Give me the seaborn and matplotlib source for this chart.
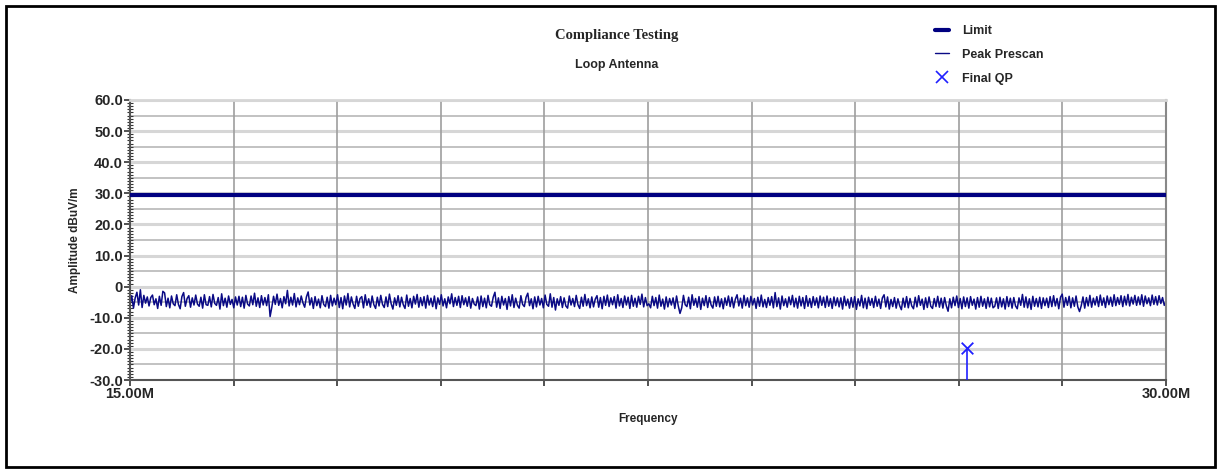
import numpy as np
import pandas as pd
import matplotlib
matplotlib.use("Agg")
import matplotlib.pyplot as plt
from matplotlib.lines import Line2D
from matplotlib.patches import Rectangle
from matplotlib.ticker import MultipleLocator, FixedLocator, FixedFormatter
import seaborn as sns

# ---------------- data ----------------
f_start_mhz = 15.0
f_stop_mhz = 30.0
limit_dbuv = 29.5

seg1 = [-5.8,-2.9,-6.9,-3.6,-1.8,-5.9,-1.0,-6.7,-2.8,-5.3,
        -3.3,-6.2,-3.5,-2.7,-5.8,-3.9,-7.0,-3.1,-6.0,-1.5,
        -2.0,-6.4,-3.7,-6.8,-3.0,-5.5,-6.1,-2.6,-5.7,-7.1,
        -3.2,-1.9,-6.3,-3.8,-2.9,-6.6,-3.6,-5.9,-2.7,-5.6,
        -6.3,-3.4,-6.9,-2.6,-5.8,-6.0,-3.2,-6.5,-2.5,-5.4,
        -6.0,-3.5,-7.2,-2.3,-6.1,-3.7,-6.6,-3.0,-5.7,-4.1,
        -6.8,-3.3,-5.9,-3.1,-6.4,-3.4,-6.9,-2.8,-5.6,-6.2,
        -3.0,-5.8,-2.1,-6.3,-3.6,-6.7,-2.9,-5.9,-3.5,-6.1,
        -2.6,-9.6,-6.6,-3.1,-5.7,-2.4,-6.0,-3.8,-6.8,-3.2,
        -5.5,-1.2,-6.2,-3.4,-5.9,-2.2,-6.5,-3.6,-5.8,-3.0]
seg2 = [-5.2,-6.6,-3.3,-1.7,-5.9,-3.6,-7.0,-3.2,-6.1,-4.0,
        -6.8,-2.9,-5.7,-6.4,-3.4,-6.9,-2.8,-6.2,-3.7,-5.8,
        -2.6,-6.7,-3.5,-7.1,-3.0,-5.9,-2.2,-6.5,-3.3,-5.6,
        -7.0,-3.1,-6.3,-3.8,-3.2,-6.8,-2.6,-6.0,-3.9,-6.6,
        -3.0,-5.8,-7.0,-3.4,-6.2,-2.8,-5.7,-6.7,-3.3,-6.4,
        -2.4,-5.5,-7.2,-3.6,-6.0,-2.9,-6.5,-3.4,-5.8,-7.0,
        -2.7,-6.3,-3.8,-6.8,-3.1,-5.6,-2.5,-6.6,-3.5,-6.1,
        -3.2,-6.9,-2.8,-5.9,-3.7,-6.4,-3.0,-7.1,-3.6,-5.7,
        -2.6,-6.2,-3.9,-6.8,-3.3,-5.5,-2.3,-6.4,-3.5,-6.0,
        -3.1,-6.7,-2.9,-5.8,-3.6,-6.3,-3.2,-6.9,-3.8,-5.6]
seg3 = [-6.1,-3.3,-7.2,-3.0,-6.4,-3.7,-6.8,-2.8,-5.8,-6.3,
        -3.4,-1.8,-6.6,-3.6,-7.0,-3.1,-5.9,-3.8,-7.3,-3.2,
        -6.2,-2.6,-6.7,-3.7,-6.0,-6.9,-2.9,-5.7,-6.4,-3.4,
        -2.1,-6.1,-3.9,-7.1,-3.3,-6.5,-3.1,-5.9,-3.8,-6.8,
        -2.7,-5.7,-6.3,-2.3,-6.6,-3.5,-7.5,-3.9,-6.0,-3.2,
        -6.7,-3.6,-6.2,-6.9,-3.0,-5.9,-3.8,-6.4,-2.8,-5.8,
        -7.0,-3.4,-6.3,-2.5,-6.1,-3.9,-6.8,-3.3,-6.5,-4.0,
        -2.9,-6.6,-3.5,-7.1,-3.1,-6.0,-2.7,-6.4,-3.6,-5.8,
        -3.2,-6.9,-2.6,-6.2,-3.8,-6.7,-3.0,-5.9,-3.4,-7.0,
        -2.8,-6.3,-3.7,-6.6,-3.1,-5.7,-2.4,-6.5,-3.5,-6.1]
seg4 = [-5.5,-6.8,-3.1,-6.1,-3.5,-6.9,-2.7,-6.3,-4.0,-7.2,
        -3.3,-6.5,-3.8,-5.9,-3.6,-7.0,-3.0,-6.2,-8.6,-6.8,
        -2.8,-5.8,-6.4,-3.4,-7.1,-2.6,-6.0,-3.8,-6.6,-3.2,
        -7.3,-3.7,-6.1,-2.9,-6.7,-3.5,-5.9,-6.9,-3.3,-6.3,
        -3.1,-6.5,-3.9,-7.1,-3.6,-6.0,-3.0,-6.4,-3.4,-6.8,
        -4.0,-2.6,-6.2,-3.7,-6.9,-2.8,-6.1,-3.6,-6.6,-3.1,
        -5.9,-3.8,-7.0,-3.4,-6.3,-2.7,-6.5,-4.1,-6.7,-3.5,
        -6.0,-3.2,-6.8,-1.9,-6.4,-3.6,-7.2,-3.0,-6.1,-3.9,
        -6.6,-3.3,-5.8,-2.8,-6.5,-3.7,-6.9,-3.1,-6.2,-3.5,
        -7.0,-2.9,-6.3,-3.8,-6.7,-3.2,-6.0,-3.6,-6.8,-3.0]
seg5 = [-6.0,-3.4,-6.7,-3.0,-6.3,-3.8,-7.0,-3.3,-6.1,-3.6,
        -6.5,-3.6,-7.2,-3.1,-6.1,-4.0,-6.9,-3.5,-6.6,-3.2,
        -7.3,-3.9,-6.2,-2.8,-6.8,-3.7,-7.1,-3.4,-6.0,-3.8,
        -6.7,-3.1,-6.3,-4.0,-7.0,-3.6,-2.6,-6.5,-3.3,-7.2,
        -4.1,-6.4,-3.5,-6.9,-3.9,-6.1,-7.4,-3.7,-6.6,-3.2,
        -6.8,-3.8,-6.2,-7.1,-3.4,-6.5,-2.9,-6.0,-4.0,-7.3,
        -3.6,-6.7,-3.3,-6.3,-7.0,-3.8,-6.4,-3.1,-6.6,-3.7,
        -6.9,-3.5,-6.2,-7.9,-3.9,-6.8,-3.4,-6.1,-3.0,-6.7,
        -3.8,-7.1,-3.3,-6.4,-3.6,-6.9,-3.2,-6.0,-4.0,-7.2,
        -3.5,-6.6,-3.1,-6.3,-3.9,-7.0,-3.4,-6.5,-3.7,-6.8]
seg6 = [-6.3,-3.6,-7.0,-3.4,-6.5,-3.9,-7.2,-3.2,-6.4,-3.7,
        -6.9,-3.5,-6.2,-7.1,-3.6,-6.0,-2.5,-6.6,-3.3,-6.8,
        -3.9,-7.3,-3.1,-6.3,-3.8,-6.5,-3.4,-7.0,-3.6,-6.1,
        -3.7,-6.7,-3.2,-6.4,-2.9,-6.2,-3.8,-7.1,-3.4,-2.4,
        -6.6,-3.5,-6.0,-3.1,-6.8,-3.6,-6.3,-3.0,-6.5,-8.0,
        -6.1,-3.3,-6.9,-3.5,-6.2,-2.8,-6.6,-3.7,-5.9,-3.2,
        -6.4,-2.7,-6.0,-3.6,-6.7,-3.0,-5.8,-3.4,-6.3,-2.6,
        -6.1,-3.5,-5.7,-2.9,-6.4,-3.1,-5.9,-2.5,-6.2,-3.4,
        -5.6,-2.8,-6.0,-3.3,-5.8,-2.6,-6.3,-3.0,-5.5,-3.6,
        -6.1,-2.7,-5.7,-3.2,-5.9,-2.9,-5.4,-3.5,-6.0,-4.8]

qp_freq_mhz = [27.12]
qp_level = [-19.8]

y_tick_values = [-30, -20, -10, 0, 10, 20, 30, 40, 50, 60]
y_tick_labels = ["-30.0", "-20.0", "-10.0", "0", "10.0", "20.0", "30.0", "40.0", "50.0", "60.0"]
x_tick_labels = ["15.00M", "30.00M"]

peak = np.array(seg1 + seg2 + seg3 + seg4 + seg5 + seg6)
freq = np.linspace(f_start_mhz, f_stop_mhz, len(peak))
df_peak = pd.DataFrame({"freq": freq, "level": peak})
df_limit = pd.DataFrame({"freq": [f_start_mhz, f_stop_mhz], "level": [limit_dbuv, limit_dbuv]})
df_qp = pd.DataFrame({"freq": qp_freq_mhz, "level": qp_level})

# ---------------- style ----------------
sns.set_style("white")
plt.rcParams["font.family"] = ["Liberation Sans", "DejaVu Sans"]

fig = plt.figure(figsize=(12.21, 4.73), dpi=100)
ax = fig.add_axes([130/1221, 1 - 380/473, (1166-130)/1221, (380-100)/473])

navy = "#000080"
trace_col = "#0a0a85"
qp_col = "#2020ff"

ymin, ymax = -30, 60

# grid: vertical
x_grid = np.linspace(f_start_mhz, f_stop_mhz, 11)
for xv in x_grid[1:-1]:
    ax.axvline(xv, color="#9e9e9e", lw=1.2, zorder=0.5)
# horizontal grid
for yv in np.arange(-20, 61, 10):
    ax.axhline(yv, color="#d6d6d6", lw=2.2, zorder=0.4)
for yv in np.arange(-25, 60, 10):
    ax.axhline(yv, color="#b8b8b8", lw=1.2, zorder=0.4)

sns.lineplot(data=df_limit, x="freq", y="level", ax=ax, color=navy, lw=3, zorder=3)
sns.lineplot(data=df_peak, x="freq", y="level", ax=ax, color=trace_col, lw=1.1, zorder=2)
ax.vlines(df_qp["freq"], ymin, df_qp["level"], color=qp_col, lw=1.2, zorder=3)
sns.scatterplot(data=df_qp, x="freq", y="level", ax=ax, marker="x", s=70, color=qp_col,
                linewidth=1.3, zorder=4)

ax.set_xlim(f_start_mhz, f_stop_mhz)
ax.set_ylim(ymin, ymax)

# ticks
ax.xaxis.set_major_locator(FixedLocator(list(x_grid)))
xlabs = [""] * len(x_grid)
xlabs[0], xlabs[-1] = x_tick_labels
ax.xaxis.set_major_formatter(FixedFormatter(xlabs))
ax.yaxis.set_major_locator(FixedLocator(y_tick_values))
ax.yaxis.set_major_formatter(FixedFormatter(y_tick_labels))
ax.yaxis.set_minor_locator(MultipleLocator(1))

ax.tick_params(axis="x", which="major", direction="out", length=4, width=1.2,
               color="#333333", labelsize=10.5, pad=1, bottom=True)
ax.tick_params(axis="y", which="major", direction="out", length=4, width=1.2,
               color="#333333", labelsize=10.5, pad=1, left=True)
ax.tick_params(axis="y", which="minor", direction="inout", length=5, width=0.8,
               color="#333333", left=True)
for lab in ax.get_xticklabels() + ax.get_yticklabels():
    lab.set_fontweight("bold")

for side in ["left", "bottom"]:
    ax.spines[side].set_color("#555555")
    ax.spines[side].set_linewidth(1.5)
ax.spines["top"].set_color("#d6d6d6")
ax.spines["top"].set_linewidth(2)
ax.spines["right"].set_color("#888888")
ax.spines["right"].set_linewidth(1.5)

ax.set_xlabel("Frequency", fontsize=8.5, fontweight="bold", labelpad=9)
ax.set_ylabel("Amplitude dBuV/m", fontsize=8.5, fontweight="bold", labelpad=6)

# titles
fig.text(617/1221, 1 - 36/473, "Compliance Testing", ha="center", va="center",
         fontsize=10.5, fontweight="bold", family=["Liberation Serif", "DejaVu Serif"])
fig.text(617/1221, 1 - 65/473, "Loop Antenna", ha="center", va="center",
         fontsize=9, fontweight="bold")

# legend
handles = [Line2D([0], [0], color=navy, lw=3),
           Line2D([0], [0], color=trace_col, lw=1),
           Line2D([0], [0], color=qp_col, lw=0, marker="x", markersize=8, markeredgewidth=1.2)]
labels = ["Limit", "Peak Prescan", "Final QP"]
fig.legend(handles, labels, loc="upper left", bbox_to_anchor=(935/1221, 1 - 25/473),
           frameon=False, prop={"size": 9, "weight": "bold"}, handlelength=1.15,
           handletextpad=1.0, labelspacing=0.95, borderpad=0, borderaxespad=0)

# outer frame
fig.patches.append(Rectangle((6/1221, 6/473), 1 - 12/1221, 1 - 12/473, transform=fig.transFigure,
                             fill=False, edgecolor="black", lw=2))

fig.savefig("out.png", dpi=100)
